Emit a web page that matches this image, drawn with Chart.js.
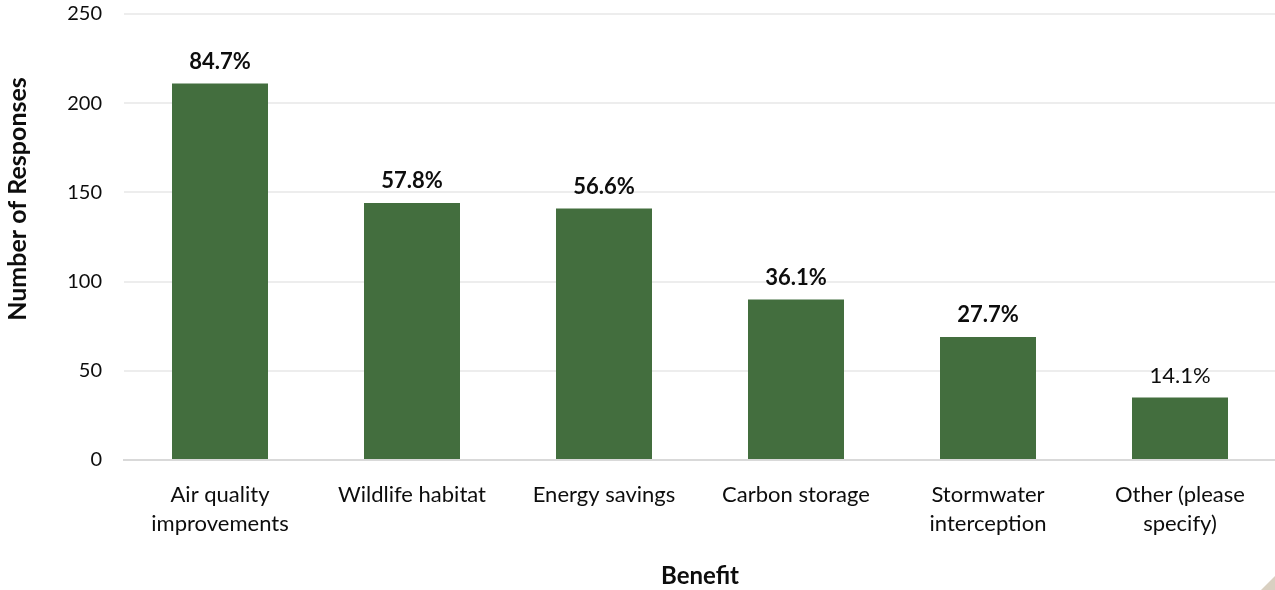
<!DOCTYPE html>
<html>
<head>
<meta charset="utf-8">
<title>Benefits</title>
<script src="https://cdn.jsdelivr.net/npm/chart.js@4/dist/chart.umd.min.js"></script>
<style>
  html, body { margin: 0; padding: 0; background: #ffffff; overflow: hidden; }
  #wrap { position: relative; width: 1276px; height: 590px; }
</style>
</head>
<body>
<div id="wrap"><canvas id="chart" width="1276" height="590"></canvas></div>
<script>
// Survey answers: how many respondents named each benefit
const benefits = [
  ['Air quality', 'improvements'],
  'Wildlife habitat',
  'Energy savings',
  'Carbon storage',
  ['Stormwater', 'interception'],
  ['Other (please', 'specify)']
];
const responses = [211, 144, 141, 90, 69, 35];
const respondents = 249;
const yTicks = [0, 50, 100, 150, 200, 250];

const FONT = 'Lato, "Open Sans", "DejaVu Sans", sans-serif';
const TEXT = '#0d0d0d';

// Share of respondents, written above each bar
const shareLabels = responses.map(v => (v / respondents * 100).toFixed(1) + '%');

const barLabels = {
  id: 'barLabels',
  afterDatasetsDraw(chart, args, opts) {
    const ctx = chart.ctx;
    const meta = chart.getDatasetMeta(0);
    ctx.save();
    ctx.fillStyle = TEXT;
    ctx.textAlign = 'center';
    ctx.textBaseline = 'middle';
    meta.data.forEach((bar, i) => {
      const weight = opts.bold[i] ? 'bold ' : '';
      ctx.font = weight + '22px ' + FONT;
      ctx.fillText(shareLabels[i], bar.x, bar.y - 22);
    });
    ctx.restore();
  }
};

const yTitle = {
  id: 'yTitle',
  afterDraw(chart, args, opts) {
    const ctx = chart.ctx;
    ctx.save();
    ctx.translate(opts.x, opts.y);
    ctx.rotate(-Math.PI / 2);
    ctx.font = 'bold 25px ' + FONT;
    ctx.fillStyle = TEXT;
    ctx.textAlign = 'center';
    ctx.textBaseline = 'middle';
    ctx.fillText(opts.text, 0, 0);
    ctx.restore();
  }
};

const cornerMark = {
  id: 'cornerMark',
  afterDraw(chart) {
    const ctx = chart.ctx;
    ctx.save();
    ctx.fillStyle = '#d9d0c1';
    ctx.beginPath();
    ctx.moveTo(1261, 590);
    ctx.lineTo(1275, 590);
    ctx.lineTo(1275, 576);
    ctx.closePath();
    ctx.fill();
    ctx.restore();
  }
};

new Chart(document.getElementById('chart'), {
  type: 'bar',
  data: {
    labels: benefits,
    datasets: [{
      data: responses,
      backgroundColor: '#436e3e',
      borderWidth: 0,
      categoryPercentage: 1,
      barPercentage: 0.5
    }]
  },
  options: {
    responsive: false,
    animation: false,
    events: [],
    layout: { padding: { top: 14, left: 0, right: 0, bottom: 0 } },
    plugins: {
      legend: { display: false },
      tooltip: { enabled: false },
      barLabels: { bold: [true, true, true, true, true, false] },
      yTitle: { text: 'Number of Responses', x: 18, y: 199 }
    },
    scales: {
      x: {
        grid: { display: false, drawTicks: false },
        border: { display: true, color: '#d9d9d9', width: 2 },
        ticks: {
          color: TEXT,
          padding: 20,
          font: { family: FONT, size: 22, lineHeight: 1.32 },
          maxRotation: 0,
          autoSkip: false
        },
        title: {
          display: true,
          text: 'Benefit',
          color: TEXT,
          font: { family: FONT, size: 24, weight: 'bold', lineHeight: 1.2 },
          padding: { top: 0, bottom: -1 }
        },
        afterFit(scale) {
          scale.height = 130;
          scale.paddingLeft = 0;
          scale.paddingRight = 0;
        }
      },
      y: {
        min: 0,
        max: 250,
        afterBuildTicks(scale) { scale.ticks = yTicks.map(v => ({ value: v })); },
        grid: {
          color: ctx => ctx.tick && ctx.tick.value === 0 ? 'rgba(0,0,0,0)' : '#ededed',
          lineWidth: 2,
          drawTicks: false
        },
        border: { display: false },
        ticks: {
          color: TEXT,
          padding: 22,
          font: { family: FONT, size: 20 }
        },
        afterFit(scale) {
          scale.width = 124;
          scale.paddingTop = 0;
          scale.paddingBottom = 0;
        }
      }
    }
  },
  plugins: [barLabels, yTitle, cornerMark]
});
</script>
</body>
</html>
